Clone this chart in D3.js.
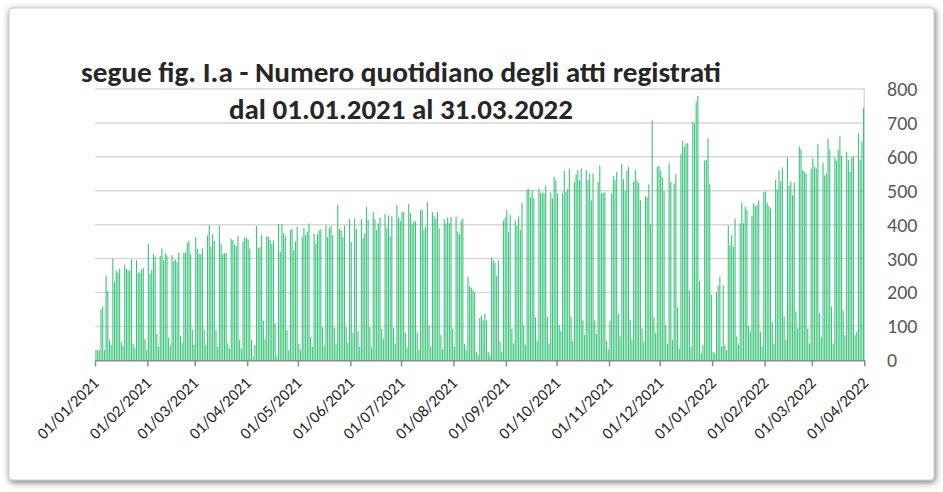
<!DOCTYPE html>
<html>
<head>
<meta charset="utf-8">
<script src="https://cdn.jsdelivr.net/npm/d3@7"></script>
<style>
  html, body { margin: 0; padding: 0; background: #fff; }
  svg { display: block; font-family: Carlito, Lato, "Open Sans", sans-serif; }
</style>
</head>
<body>
<div id="chart"></div>
<script>
// atti registrati per giorno, un array per mese (dal 01.01.2021)
var jan21 = [30,30,30,150,158,30,250,205,60,45,300,232,265,258,270,54,42,282,270,265,265,298,50,36,295,258,258,268,272,63,30]
var feb21 = [343,256,267,313,306,78,40,308,330,295,316,310,67,43,310,292,296,290,318,73,52,318,318,346,353,313,90,47]
var mar21 = [363,328,314,313,330,90,45,368,398,336,371,353,90,40,398,343,313,315,317,50,35,358,355,340,338,366,60,35,350,363,361]
var apr21 = [357,330,60,10,45,396,333,333,370,117,63,365,365,355,343,353,109,10,402,320,402,375,366,89,30,385,387,325,350,394]
var may21 = [48,30,363,391,369,380,404,69,40,374,345,372,384,386,97,43,398,363,391,397,369,96,46,458,388,384,363,397,97,52,416]
var jun21 = [349,81,418,388,86,40,416,360,374,452,414,99,38,437,416,384,404,421,93,64,431,389,427,366,425,96,50,458,421,411]
var jul21 = [437,437,81,38,461,434,401,411,409,81,31,443,443,384,395,467,103,40,437,425,417,437,388,75,33,416,404,421,404,423,93]
var aug21 = [40,423,380,372,411,418,48,31,247,219,213,207,200,25,15,125,132,118,137,118,25,15,303,295,288,250,295,56,26,412,421]
var sep21 = [443,378,428,94,50,411,397,424,384,465,104,45,504,506,481,502,478,127,57,506,493,495,492,516,129,50,495,477,541,531]
var oct21 = [492,104,87,492,559,497,506,565,129,56,526,548,561,531,566,118,75,561,531,551,472,551,118,78,526,575,492,495,495,57,32]
var nov21 = [116,492,543,531,555,137,70,579,534,500,559,570,120,60,526,561,531,523,472,94,56,484,481,519,400,707,127,80,571,573]
var dec21 = [560,541,500,104,48,581,527,60,522,549,157,35,608,648,630,640,640,205,40,704,698,763,780,235,20,45,589,591,655,520,193]
var jan22 = [25,20,200,219,246,40,221,44,30,397,340,369,335,418,70,46,404,465,404,453,443,102,85,426,463,455,458,472,84,40,496]
var feb22 = [498,465,455,448,113,50,533,504,561,528,569,130,60,598,514,527,487,524,143,94,630,622,561,557,550,94,50,565]
var mar22 = [595,571,566,637,139,68,582,545,551,654,620,158,50,598,589,620,660,604,147,74,615,591,556,598,602,74,85,669,591,646,745]

var yTicks = [0, 100, 200, 300, 400, 500, 600, 700, 800]
var titleLines = ["segue fig. I.a - Numero quotidiano degli atti registrati", "dal 01.01.2021 al 31.03.2022"]

var start = new Date(2021, 0, 1),
    end = new Date(2022, 3, 1)

var values = [].concat(jan21, feb21, mar21, apr21, may21, jun21, jul21, aug21, sep21, oct21, nov21, dec21, jan22, feb22, mar22)
var days = values.map(function (v, i) { return { date: d3.timeDay.offset(start, i), value: v } })

var width = 943,
    height = 492

var svg = d3.select("#chart")
    .append("svg")
    .attr("width", width)
    .attr("height", height)

// cornice con ombra
var defs = svg.append("defs")
var f = defs.append("filter").attr("id", "shadow")
    .attr("x", "-5%").attr("y", "-5%").attr("width", "110%").attr("height", "110%")
f.append("feDropShadow")
    .attr("dx", 1).attr("dy", 2).attr("stdDeviation", 3)
    .attr("flood-color", "#333").attr("flood-opacity", 0.7)

svg.append("rect")
    .attr("x", 9).attr("y", 8)
    .attr("width", 925).attr("height", 472)
    .attr("rx", 3)
    .attr("fill", "#fff")
    .attr("stroke", "#c8c8c8")
    .attr("stroke-width", 1)
    .attr("filter", "url(#shadow)")

var x = d3.scaleTime().domain([start, end]).range([95, 864.3])
var y = d3.scaleLinear().domain([0, 800]).range([360.3, 89])

// griglia
svg.append("g")
    .selectAll("line")
    .data(yTicks.slice(1))
    .join("line")
    .attr("x1", 95).attr("x2", 864.3)
    .attr("y1", function (d) { return y(d) })
    .attr("y2", function (d) { return y(d) })
    .attr("stroke", "#d9d9d9")
    .attr("stroke-width", 1.5)

svg.append("line")
    .attr("x1", 864.3).attr("x2", 864.3)
    .attr("y1", y(800)).attr("y2", y(0))
    .attr("stroke", "#d9d9d9")
    .attr("stroke-width", 1.5)

// barre giornaliere
svg.append("g")
    .selectAll("rect")
    .data(days)
    .join("rect")
    .attr("x", function (d) { return x(d.date) + 0.4 })
    .attr("width", 1.1)
    .attr("y", function (d) { return y(d.value) })
    .attr("height", function (d) { return y(0) - y(d.value) })
    .attr("fill", "#3cc47c")

// asse x
var monthStarts = d3.timeMonth.range(start, d3.timeDay.offset(end, 1))
var xAxis = svg.append("g")
    .attr("transform", "translate(0," + y(0) + ")")
    .call(d3.axisBottom(x).tickValues(monthStarts).tickSize(6).tickSizeOuter(0).tickFormat(""))
xAxis.select(".domain").attr("stroke", "#8c8c8c").attr("stroke-width", 1.5)
xAxis.selectAll(".tick line").attr("stroke", "#8c8c8c").attr("stroke-width", 1.5)

var fmt = d3.timeFormat("%d/%m/%Y")
svg.append("g")
    .selectAll("text")
    .data(monthStarts)
    .join("text")
    .attr("transform", function (d) { return "translate(" + (x(d) + 5) + ",384) rotate(-45)" })
    .attr("text-anchor", "end")
    .attr("font-size", 16.5)
    .attr("fill", "#262626")
    .text(function (d) { return fmt(d) })

// asse y a destra
svg.append("g")
    .selectAll("text")
    .data(yTicks)
    .join("text")
    .attr("x", 887)
    .attr("y", function (d) { return y(d) })
    .attr("dy", "0.35em")
    .attr("font-size", 20)
    .attr("fill", "#595959")
    .text(function (d) { return d })

// titolo
svg.append("text")
    .attr("x", 401).attr("y", 82)
    .attr("text-anchor", "middle")
    .attr("font-size", 29)
    .attr("font-weight", "bold")
    .attr("fill", "#262626")
    .attr("textLength", 640)
    .attr("lengthAdjust", "spacingAndGlyphs")
    .text(titleLines[0])

svg.append("text")
    .attr("x", 401).attr("y", 119)
    .attr("text-anchor", "middle")
    .attr("font-size", 29)
    .attr("font-weight", "bold")
    .attr("fill", "#262626")
    .attr("textLength", 344)
    .attr("lengthAdjust", "spacingAndGlyphs")
    .text(titleLines[1])
</script>
</body>
</html>
